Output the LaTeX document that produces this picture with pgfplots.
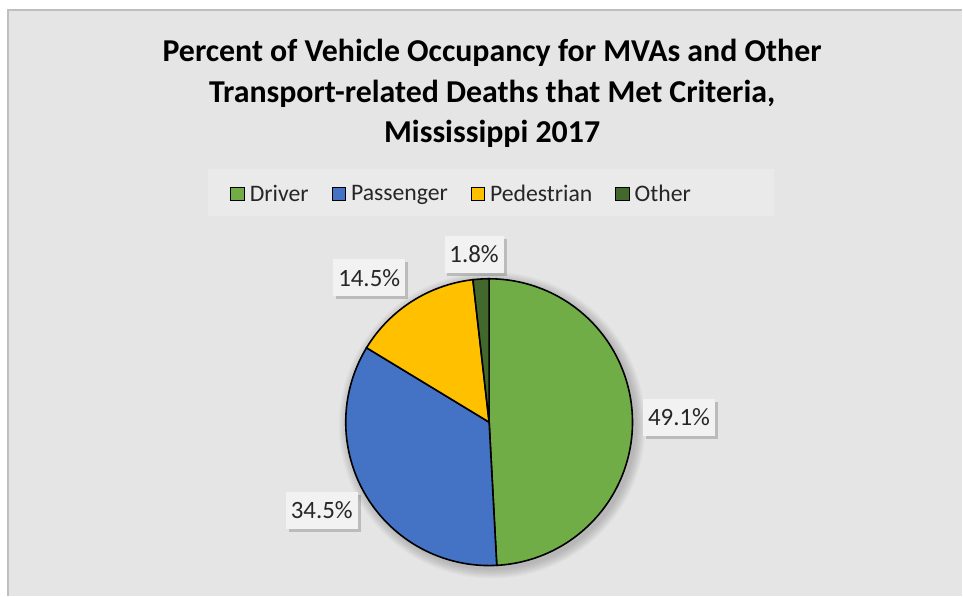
\documentclass[border=0pt]{standalone}
\usepackage{pgfplots}
\usepackage{pgfplotstable}
\pgfplotsset{compat=1.18}
\usepackage{fontspec}
\setmainfont{Carlito}
\usetikzlibrary{shadows}
\definecolor{cDriver}{HTML}{70AD47}
\definecolor{cPass}{HTML}{4472C4}
\definecolor{cPed}{HTML}{FFC000}
\definecolor{cOther}{HTML}{43682B}
\definecolor{bgc}{HTML}{E5E5E5}
\definecolor{bordc}{HTML}{BFBFBF}
\definecolor{legc}{HTML}{EAEAEA}
\definecolor{labc}{HTML}{F2F2F2}
\definecolor{txtc}{HTML}{262626}

\pgfplotstableread{
name value
Driver 49.1
Passenger 34.5
Pedestrian 14.5
Other 1.8
}\piedata

\begin{document}
\begin{tikzpicture}
\pgfplotstablegetelem{0}{value}\of\piedata \edef\vA{\pgfplotsretval}
\pgfplotstablegetelem{1}{value}\of\piedata \edef\vB{\pgfplotsretval}
\pgfplotstablegetelem{2}{value}\of\piedata \edef\vC{\pgfplotsretval}
\pgfplotstablegetelem{3}{value}\of\piedata \edef\vD{\pgfplotsretval}
\pgfmathsetmacro\tot{\vA+\vB+\vC+\vD}
\pgfmathsetmacro\aA{90-\vA/\tot*360}
\pgfmathsetmacro\aB{\aA-\vB/\tot*360}
\pgfmathsetmacro\aC{\aB-\vC/\tot*360}
\pgfmathsetmacro\aD{\aC-\vD/\tot*360}
\def\cx{489.5}\def\cy{173.5}\def\rr{143.5}
\begin{axis}[
  scale only axis, width=963bp, height=596bp,
  xmin=0, xmax=963, ymin=0, ymax=596,
  hide axis, clip=false,
  legend columns=4,
  legend style={at={(axis cs:463.5,402)}, anchor=center, draw=none, fill=none,
    font=\fontsize{23.8}{29}\selectfont\color{txtc},
    /tikz/every even column/.append style={column sep=18pt},
    nodes={inner xsep=5pt}},
  legend image code/.code={\draw[#1, draw=black, line width=1pt] (0pt,-7pt) rectangle (13.5pt,6.5pt);},
]
\fill[white] (axis cs:0,0) rectangle (axis cs:963,596);
\fill[bgc] (axis cs:8,0) rectangle (axis cs:963,586);
\draw[bordc, line width=1.5pt] (axis cs:8,0) -- (axis cs:8,586) -- (axis cs:963,586);
\fill[legc] (axis cs:208,380) rectangle (axis cs:775,427);
\pgfplotsinvokeforeach{1,...,10}{
  \fill[black, opacity=0.018] (axis cs:492.5,170.5) circle[radius={(143.5+#1)*1bp}];
}
\node[align=center, font=\bfseries\fontsize{32}{40.5}\selectfont] at (axis cs:492.5,502.5)
  {Percent of Vehicle Occupancy for MVAs and Other\\Transport-related Deaths that Met Criteria,\\Mississippi 2017};

\addplot[fill=cDriver, draw=black, line width=1.6pt, domain=\aA:90, samples=120]
  ({\cx+\rr*cos(x)}, {\cy+\rr*sin(x)}) -- (axis cs:\cx,\cy) -- cycle;
\addlegendentry{Driver}
\addplot[fill=cPass, draw=black, line width=1.6pt, domain=\aB:\aA, samples=100]
  ({\cx+\rr*cos(x)}, {\cy+\rr*sin(x)}) -- (axis cs:\cx,\cy) -- cycle;
\addlegendentry{Passenger}
\addplot[fill=cPed, draw=black, line width=1.6pt, domain=\aC:\aB, samples=50]
  ({\cx+\rr*cos(x)}, {\cy+\rr*sin(x)}) -- (axis cs:\cx,\cy) -- cycle;
\addlegendentry{Pedestrian}
\addplot[fill=cOther, draw=black, line width=1.6pt, domain=\aD:\aC, samples=10]
  ({\cx+\rr*cos(x)}, {\cy+\rr*sin(x)}) -- (axis cs:\cx,\cy) -- cycle;
\addlegendentry{Other}

\tikzset{lab/.style={fill=labc, inner xsep=5pt, minimum height=37pt, text=txtc,
  font=\fontsize{25}{29}\selectfont,
  drop shadow={fill=black, opacity=0.18, shadow xshift=3pt, shadow yshift=-3pt}}}
\node[lab] at (axis cs:679.5,178.5) {49.1\%};
\node[lab] at (axis cs:322,85.5) {34.5\%};
\node[lab] at (axis cs:369.5,318) {14.5\%};
\node[lab] at (axis cs:474.5,341.5) {1.8\%};
\end{axis}
\end{tikzpicture}
\end{document}
